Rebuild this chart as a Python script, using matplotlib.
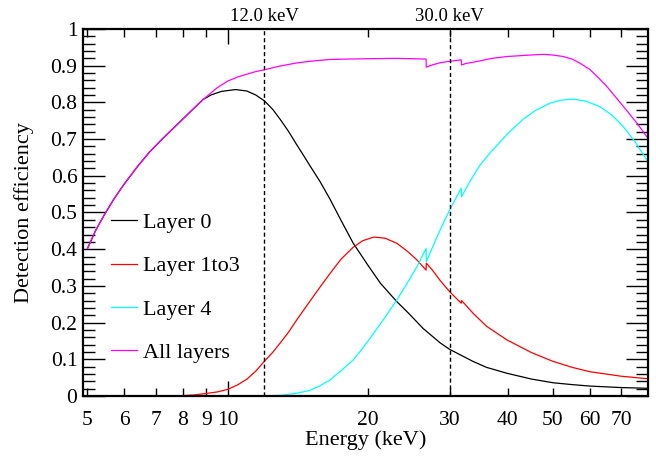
import numpy as np
import matplotlib.pyplot as plt
from matplotlib.ticker import FixedLocator, FixedFormatter, MultipleLocator, FuncFormatter

plt.rcParams["font.family"] = ["Liberation Serif", "DejaVu Serif"]

# ---------------------------------------------------------------------
# Efficiency curves per layer (energy in keV)
# ---------------------------------------------------------------------

e_layer0 = [5.0, 5.2, 5.43, 5.7, 6.0, 6.4, 6.81, 7.3, 7.9, 8.4, 8.86, 9.2, 9.7,
            10.4, 11.0, 11.5, 12.0, 12.5, 13.0, 13.5, 14.07, 14.5, 15.0, 15.8,
            16.6, 17.5, 18.6, 20.0, 21.3, 23.1, 24.5, 26.3, 28.6, 30.0, 33.7,
            36.0, 39.8, 45.0, 50.1, 55.0, 60.1, 70.0, 80.0]
eff_layer0 = [0.402, 0.450, 0.493, 0.537, 0.578, 0.625, 0.666, 0.705, 0.747,
              0.780, 0.808, 0.820, 0.830, 0.835, 0.831, 0.820, 0.804, 0.781,
              0.752, 0.722, 0.685, 0.659, 0.629, 0.584, 0.536, 0.480, 0.417,
              0.357, 0.307, 0.257, 0.225, 0.184, 0.145, 0.127, 0.094, 0.078,
              0.062, 0.046, 0.036, 0.031, 0.027, 0.023, 0.021]

e_layer13 = [5.0, 7.5, 8.0, 8.5, 9.0, 9.5, 10.0, 10.5, 11.0, 11.5, 12.0, 12.5,
             13.0, 13.5, 14.07, 15.0, 15.8, 16.6, 17.5, 18.6, 19.5, 20.6, 21.8,
             23.1, 24.3, 25.5, 26.69, 26.72, 27.5, 28.6, 30.0, 31.75, 31.82,
             33.7, 36.0, 39.8, 45.0, 50.1, 55.0, 60.1, 70.0, 80.0]
eff_layer13 = [0.0, 0.0, 0.001, 0.003, 0.007, 0.011, 0.018, 0.030, 0.046, 0.068,
               0.095, 0.119, 0.146, 0.173, 0.207, 0.257, 0.297, 0.334, 0.372,
               0.405, 0.423, 0.433, 0.430, 0.416, 0.395, 0.371, 0.343, 0.362,
               0.344, 0.315, 0.284, 0.253, 0.260, 0.225, 0.190, 0.153, 0.118,
               0.094, 0.078, 0.066, 0.054, 0.047]

e_layer4 = [5.0, 12.0, 13.0, 14.0, 15.0, 15.8, 16.6, 17.5, 18.6, 19.5, 20.6,
            21.8, 23.1, 24.3, 25.5, 26.69, 26.72, 28.0, 29.0, 30.0, 31.75, 31.82,
            33.0, 34.8, 36.6, 40.0, 43.2, 46.0, 49.3, 52.0, 55.3, 59.0, 63.1,
            67.0, 70.8, 75.0, 80.0]
eff_layer4 = [0.0, 0.0, 0.002, 0.007, 0.015, 0.028, 0.044, 0.068, 0.098, 0.130,
              0.171, 0.215, 0.262, 0.307, 0.352, 0.402, 0.366, 0.426, 0.468,
              0.507, 0.566, 0.543, 0.580, 0.628, 0.662, 0.715, 0.755, 0.779,
              0.798, 0.806, 0.809, 0.803, 0.788, 0.765, 0.734, 0.693, 0.638]

e_all = [5.0, 5.2, 5.43, 5.7, 6.0, 6.4, 6.81, 7.3, 7.9, 8.4, 8.86, 9.5, 10.0,
         10.5, 11.0, 11.5, 12.0, 12.95, 14.0, 15.0, 16.6, 18.0, 20.0, 23.0,
         25.0, 26.69, 26.72, 27.5, 28.6, 29.6, 30.5, 31.75, 31.82, 32.5, 33.5,
         34.8, 37.0, 39.8, 44.6, 47.7, 50.0, 52.6, 55.0, 57.3, 60.1, 62.5, 65.0,
         67.4, 71.9, 76.0, 80.0]
eff_all = [0.402, 0.450, 0.493, 0.537, 0.578, 0.625, 0.666, 0.705, 0.747, 0.780,
           0.808, 0.840, 0.858, 0.869, 0.877, 0.884, 0.889, 0.899, 0.907, 0.912,
           0.917, 0.918, 0.919, 0.920, 0.919, 0.918, 0.896, 0.902, 0.908, 0.911,
           0.913, 0.916, 0.902, 0.906, 0.909, 0.913, 0.920, 0.925, 0.929, 0.931,
           0.929, 0.925, 0.918, 0.906, 0.889, 0.868, 0.846, 0.822, 0.779, 0.741,
           0.702]

series = [
    ("Layer 0", e_layer0, eff_layer0, "black"),
    ("Layer 1to3", e_layer13, eff_layer13, "red"),
    ("Layer 4", e_layer4, eff_layer4, "cyan"),
    ("All layers", e_all, eff_all, "magenta"),
]

marker_energies = [12.0, 30.0]

x_ticks = [5, 6, 7, 8, 9, 10, 20, 30, 40, 50, 60, 70]

# ---------------------------------------------------------------------
# Plot
# ---------------------------------------------------------------------

fig = plt.figure(figsize=(6.56, 4.57), dpi=100)
ax = fig.add_axes([83 / 656, 61 / 457, 565 / 656, 367 / 457])

for label, e, eff, color in series:
    ax.plot(e, eff, color=color, lw=0.9, label=label)

for e in marker_energies:
    ax.axvline(e, color="black", lw=1.0, dashes=(3, 2))
    ax.text(e, 1.022, f"{e:.1f} keV", transform=ax.get_xaxis_transform(),
            ha="center", va="baseline", fontsize=13.5)

ax.set_xscale("log")
ax.set_xlim(4.89, 80)
ax.set_ylim(0, 1)

ax.xaxis.set_major_locator(FixedLocator([10]))
ax.xaxis.set_minor_locator(FixedLocator([t for t in x_ticks if t != 10]))
ax.xaxis.set_major_formatter(FixedFormatter(["10"]))
ax.xaxis.set_minor_formatter(FuncFormatter(lambda v, p: f"{v:g}"))

ax.yaxis.set_major_locator(MultipleLocator(0.1))
ax.yaxis.set_minor_locator(MultipleLocator(0.02))
ax.yaxis.set_major_formatter(FuncFormatter(lambda v, p: f"{v:.1f}".rstrip("0").rstrip(".") if v else "0"))

ax.tick_params(axis="both", which="both", direction="in", top=True, right=True,
               labelsize=15.5, width=1.0, color="black")
ax.tick_params(axis="x", which="major", length=11, pad=11)
ax.tick_params(axis="x", which="minor", length=6, pad=11)
ax.tick_params(axis="y", which="major", length=15.5, pad=4)
ax.tick_params(axis="y", which="minor", length=8.5)

for s in ax.spines.values():
    s.set_linewidth(1.6)

ax.set_xlabel("Energy (keV)", fontsize=16)
ax.set_ylabel("Detection efficiency", fontsize=16)
ax.xaxis.set_label_coords(0.5, -0.094)
ax.yaxis.set_label_coords(-0.086, 0.5)

ax.legend(loc="upper left", bbox_to_anchor=(0.0496, 0.50), frameon=False,
          fontsize=16, handlelength=1.17, handletextpad=0.26, labelspacing=1.02,
          borderpad=0, borderaxespad=0)

fig.savefig("out.png", dpi=100)
